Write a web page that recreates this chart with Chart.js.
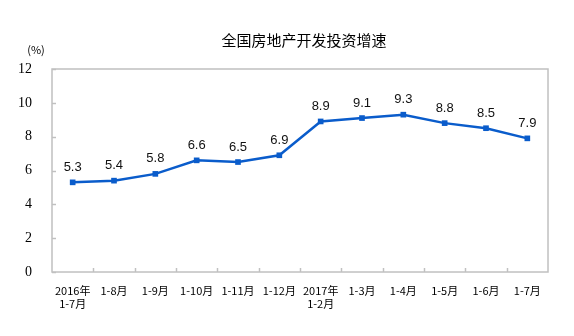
<!DOCTYPE html>
<html>
<head>
<meta charset="utf-8">
<script src="https://cdn.jsdelivr.net/npm/chart.js@4/dist/chart.umd.min.js"></script>
<style>
  html, body { margin:0; padding:0; background:#fff; }
  #wrap { width:574px; height:336px; }
</style>
</head>
<body>
<div id="wrap"><canvas id="c" width="574" height="336"></canvas></div>
<script>
// 数据
const titleText = '全国房地产开发投资增速';
const unitText = '(%)';
const categories = [
  ['2016年', '1-7月'], '1-8月', '1-9月', '1-10月', '1-11月', '1-12月',
  ['2017年', '1-2月'], '1-3月', '1-4月', '1-5月', '1-6月', '1-7月'
];
const growth = [5.3, 5.4, 5.8, 6.6, 6.5, 6.9, 8.9, 9.1, 9.3, 8.8, 8.5, 7.9];
const yTicks = [0, 2, 4, 6, 8, 10, 12];

const lineBlue = '#0a5ccb';
const frameGray = '#c0c0c0';

// 边框、刻度、数据标签、标题
const decor = {
  id: 'decor',
  afterDatasetsDraw(chart) {
    const { ctx, chartArea: a, scales } = chart;
    ctx.save();
    ctx.strokeStyle = frameGray;
    ctx.lineWidth = 1.5;
    ctx.strokeRect(a.left, a.top, a.right - a.left, a.bottom - a.top);
    // y 轴内侧刻度
    yTicks.forEach(v => {
      const y = Math.round(scales.y.getPixelForValue(v)) + 0.5;
      ctx.beginPath();
      ctx.moveTo(a.left, y);
      ctx.lineTo(a.left + 4, y);
      ctx.stroke();
    });
    // x 轴分类分隔刻度
    for (let i = 1; i < categories.length; i++) {
      const x = Math.round((scales.x.getPixelForValue(i - 1) + scales.x.getPixelForValue(i)) / 2) + 0.5;
      ctx.beginPath();
      ctx.moveTo(x, a.bottom);
      ctx.lineTo(x, a.bottom - 4);
      ctx.stroke();
    }
    // 数据标签
    ctx.fillStyle = '#111';
    ctx.font = '13px "Liberation Sans", Arial, sans-serif';
    ctx.textAlign = 'center';
    ctx.textBaseline = 'middle';
    chart.getDatasetMeta(0).data.forEach((pt, i) => {
      ctx.fillText(growth[i].toFixed(1), pt.x, pt.y - 15);
    });
    // 标题和单位
    ctx.fillStyle = '#000';
    ctx.font = '15px "Noto Sans CJK SC", sans-serif';
    ctx.fillText(titleText, 304, 40);
    ctx.font = '11px "Noto Sans CJK SC", sans-serif';
    ctx.fillText(unitText, 36, 50);
    ctx.restore();
  }
};

new Chart(document.getElementById('c'), {
  type: 'line',
  data: {
    labels: categories,
    datasets: [{
      data: growth,
      borderColor: lineBlue,
      backgroundColor: lineBlue,
      borderWidth: 2.5,
      pointStyle: 'rect',
      pointRadius: 4,
      pointBorderWidth: 0,
      tension: 0,
      fill: false
    }]
  },
  options: {
    responsive: false,
    animation: false,
    layout: { padding: { top: 69, right: 26, left: 0, bottom: 0 } },
    plugins: { legend: { display: false }, tooltip: { enabled: false } },
    scales: {
      x: {
        offset: true,
        grid: { display: false },
        border: { display: false },
        ticks: {
          color: '#000',
          font: { family: '"Noto Sans CJK SC", sans-serif', size: 11 },
          padding: 4,
          maxRotation: 0,
          autoSkip: false
        },
        afterFit(s) { s.height = 64; }
      },
      y: {
        min: 0,
        max: 12,
        grid: { display: false },
        border: { display: false },
        ticks: {
          stepSize: 2,
          color: '#000',
          font: { family: '"Liberation Serif", serif', size: 14 },
          padding: 12
        },
        afterFit(s) { s.width = 52; }
      }
    }
  },
  plugins: [decor]
});
</script>
</body>
</html>
